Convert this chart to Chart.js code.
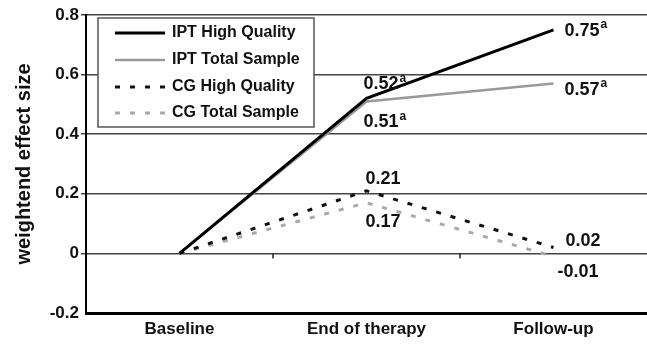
<!DOCTYPE html>
<html>
<head>
<meta charset="utf-8">
<script src="https://cdn.jsdelivr.net/npm/chart.js@4.4.1/dist/chart.umd.min.js"></script>
<style>
  html, body { margin: 0; padding: 0; background: #fff; }
  #wrap { width: 647px; height: 344px; position: relative; }
</style>
</head>
<body>
<div id="wrap"><canvas id="chart"></canvas></div>
<script>
const categories = ['Baseline', 'End of therapy', 'Follow-up'];
const iptHigh = [0, 0.52, 0.75];
const iptTotal = [0, 0.51, 0.57];
const cgHigh = [0, 0.21, 0.02];
const cgTotal = [0, 0.17, -0.01];
const yTicks = [-0.2, 0, 0.2, 0.4, 0.6, 0.8];

// value labels: [dataset index, point index, text, superscript, dx, dy]
const valueLabels = [
    [0, 1, '0.52', 'a', -3, -14],
    [1, 1, '0.51', 'a', -3, 21],
    [0, 2, '0.75', 'a', 11, 1],
    [1, 2, '0.57', 'a', 11, 6],
    [2, 1, '0.21', '', -1, -12],
    [3, 1, '0.17', '', -1, 19],
    [2, 2, '0.02', '', 12, -6],
    [3, 2, '-0.01', '', 4, 16]
];

const FONT = '"Liberation Sans", Arial, sans-serif';

const labelPlugin = {
    id: 'valueLabels',
    afterDatasetsDraw(chart) {
        const ctx = chart.ctx;
        const x = chart.scales.x, y = chart.scales.y;
        ctx.save();
        ctx.fillStyle = '#111';
        ctx.textBaseline = 'middle';
        ctx.textAlign = 'left';
        valueLabels.forEach(l => {
            const v = chart.data.datasets[l[0]].data[l[1]];
            const px = x.getPixelForValue(l[1]) + l[4];
            const py = y.getPixelForValue(v) + l[5];
            ctx.font = 'bold 18px ' + FONT;
            ctx.fillText(l[2], px, py);
            if (l[3]) {
                const w = ctx.measureText(l[2]).width;
                ctx.font = 'bold 12px ' + FONT;
                ctx.fillText(l[3], px + w + 1, py - 6);
            }
        });
        ctx.restore();
    }
};

// small tick marks on the zero line between categories
const zeroTicks = {
    id: 'zeroTicks',
    afterDraw(chart) {
        const ctx = chart.ctx;
        const x = chart.scales.x, y = chart.scales.y;
        const y0 = y.getPixelForValue(0);
        ctx.save();
        ctx.strokeStyle = '#222';
        ctx.lineWidth = 1.5;
        for (let i = 0; i < categories.length - 1; i++) {
            const px = (x.getPixelForValue(i) + x.getPixelForValue(i + 1)) / 2;
            ctx.beginPath();
            ctx.moveTo(px, y0);
            ctx.lineTo(px, y0 + 5);
            ctx.stroke();
        }
        ctx.restore();
    }
};

const boxLegend = {
    id: 'boxLegend',
    afterDraw(chart) {
        const ctx = chart.ctx;
        const left = 98, top = 18, w = 216, h = 109;
        ctx.save();
        ctx.fillStyle = '#fff';
        ctx.fillRect(left, top, w, h);
        ctx.strokeStyle = '#555';
        ctx.lineWidth = 1.5;
        ctx.strokeRect(left, top, w, h);
        const rows = [33, 60, 87, 113];
        chart.data.datasets.forEach((ds, i) => {
            ctx.beginPath();
            ctx.strokeStyle = ds.borderColor;
            ctx.lineWidth = ds.borderWidth;
            ctx.setLineDash(ds.borderDash || []);
            ctx.moveTo(115, rows[i]);
            ctx.lineTo(165, rows[i]);
            ctx.stroke();
            ctx.setLineDash([]);
            ctx.fillStyle = '#111';
            ctx.font = 'bold 16px ' + FONT;
            ctx.textBaseline = 'middle';
            ctx.fillText(ds.label, 172, rows[i]);
        });
        ctx.restore();
    }
};

new Chart(document.getElementById('chart'), {
    type: 'line',
    data: {
        labels: categories,
        datasets: [
            { label: 'IPT High Quality', data: iptHigh, borderColor: '#000', borderWidth: 3 },
            { label: 'IPT Total Sample', data: iptTotal, borderColor: '#999', borderWidth: 2.5 },
            { label: 'CG High Quality', data: cgHigh, borderColor: '#111', borderWidth: 3, borderDash: [5, 10] },
            { label: 'CG Total Sample', data: cgTotal, borderColor: '#aaa', borderWidth: 3, borderDash: [5, 10] }
        ].map(d => Object.assign(d, { fill: false, pointRadius: 0, tension: 0 }))
    },
    options: {
        responsive: true,
        maintainAspectRatio: false,
        animation: false,
        layout: { padding: { top: 15, right: 0, left: 12, bottom: 0 } },
        plugins: {
            legend: { display: false },
            tooltip: { enabled: false }
        },
        scales: {
            x: {
                offset: true,
                grid: { display: false, drawTicks: false, tickLength: 0 },
                border: { color: '#000', width: 3 },
                afterFit: s => { s.height = 31; },
                ticks: {
                    color: '#111',
                    padding: 6,
                    font: { family: FONT, size: 17, weight: 'bold' }
                }
            },
            y: {
                min: -0.2,
                max: 0.8,
                afterBuildTicks: s => { s.ticks = yTicks.map(v => ({ value: v })); },
                afterFit: s => { s.width = 74; },
                border: { color: '#000', width: 2 },
                grid: {
                    color: c => c.tick && c.tick.value === -0.2 ? 'rgba(0,0,0,0)' : '#444',
                    lineWidth: 1.5,
                    tickLength: 5
                },
                ticks: {
                    color: '#111',
                    padding: 2,
                    font: { family: FONT, size: 17, weight: 'bold' },
                    callback: v => String(Math.round(v * 10) / 10)
                },
                title: {
                    display: true,
                    text: 'weightend effect size',
                    color: '#111',
                    padding: { top: 0, bottom: 4 },
                    font: { family: FONT, size: 20, weight: 'bold' }
                }
            }
        }
    },
    plugins: [labelPlugin, zeroTicks, boxLegend]
});
</script>
</body>
</html>
